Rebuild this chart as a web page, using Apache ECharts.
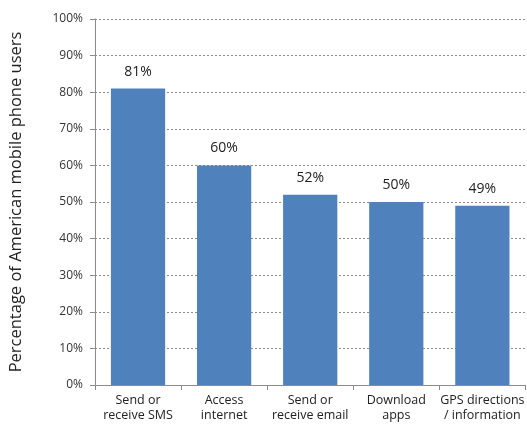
<!DOCTYPE html>
<html><head><meta charset="utf-8">
<script src="https://cdn.jsdelivr.net/npm/echarts@6/dist/echarts.min.js"></script>
<style>html,body{margin:0;padding:0;background:#fff}#c{width:527px;height:428px}</style>
</head><body><div id="c"></div>
<script>
const categories = ["Send or\nreceive SMS", "Access\ninternet", "Send or\nreceive email", "Download\napps", "GPS directions\n/ information"];
const values = [81, 60, 52, 50, 49];
const yTicks = [0, 10, 20, 30, 40, 50, 60, 70, 80, 90, 100];
const yTitle = "Percentage of American mobile phone users";

const chart = echarts.init(document.getElementById('c'));
chart.setOption({
  animation: false,
  grid: {left: 90, right: 1, top: 19, bottom: 43},
  xAxis: {
    type: 'category', data: categories,
    axisLine: {lineStyle: {color: '#8c8c8c'}},
    axisTick: {show: true, length: 5, lineStyle: {color: '#8c8c8c'}},
    axisLabel: {interval: 0, color: '#222', fontSize: 12.5, fontFamily: 'Open Sans', lineHeight: 15, margin: 8}
  },
  yAxis: {
    type: 'value', min: 0, max: 100, interval: 10,
    name: yTitle, nameLocation: 'middle', nameGap: 70, nameRotate: 90,
    nameTextStyle: {fontSize: 16.5, color: '#222', fontFamily: 'Open Sans'},
    axisLine: {show: true, lineStyle: {color: '#8c8c8c'}},
    axisTick: {show: true, length: 5, lineStyle: {color: '#8c8c8c'}},
    axisLabel: {color: '#333', fontSize: 12, fontFamily: 'Open Sans', margin: 12,
      formatter: v => yTicks.includes(v) ? v + '%' : ''},
    splitLine: {lineStyle: {color: '#8c8c8c', type: [2, 2], width: 1}}
  },
  series: [{
    type: 'bar', data: values, barWidth: '63%',
    itemStyle: {color: '#4F81BD'},
    label: {show: true, position: 'top', distance: 10, formatter: p => p.value + '%',
      color: '#222', fontSize: 14, fontFamily: 'Open Sans'}
  }]
});
</script></body></html>
